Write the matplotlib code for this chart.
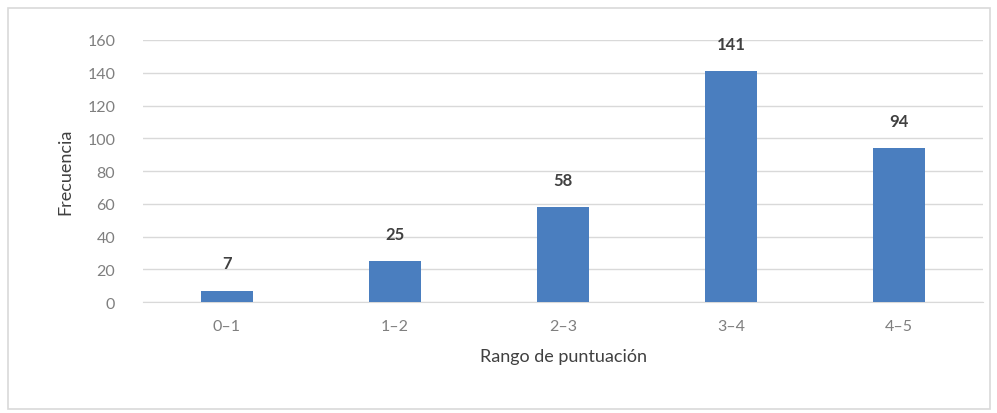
import matplotlib
matplotlib.use("Agg")
from matplotlib import pyplot as plt
from matplotlib.patches import Rectangle

rangos = ['0–1', '1–2', '2–3', '3–4', '4–5']
frecuencia = [7, 25, 58, 141, 94]
yticks = [0, 20, 40, 60, 80, 100, 120, 140, 160]

plt.rcParams['font.family'] = ['Lato', 'DejaVu Sans']

fig = plt.figure(figsize=(9.97, 4.14), dpi=100)
ax = fig.add_axes([0.1434, 0.268, 0.8426, 0.633])

# marco exterior del gráfico
fig.patches.append(Rectangle((8 / 997, 4 / 414), 982 / 997, 401 / 414,
                             transform=fig.transFigure, fill=False,
                             edgecolor='#d9d9d9', linewidth=1.2))

x = range(len(rangos))
bars = ax.bar(x, frecuencia, width=0.31, color='#4a7ebf', zorder=3)

for b, v in zip(bars, frecuencia):
    ax.annotate(str(v), (b.get_x() + b.get_width() / 2, v),
                xytext=(0, 14), textcoords='offset points',
                ha='center', va='bottom', fontsize=12,
                fontweight='bold', color='#404040')

ax.set_xlim(-0.5, len(rangos) - 0.5)
ax.set_ylim(0, 160)
ax.set_yticks(yticks)
ax.set_xticks(list(x))
ax.set_xticklabels(rangos)
ax.grid(axis='y', color='#d9d9d9', linewidth=1, zorder=0)
for s in ['top', 'right', 'left']:
    ax.spines[s].set_visible(False)
ax.spines['bottom'].set_color('#d9d9d9')
ax.tick_params(axis='both', length=0, labelsize=11.5, labelcolor='#7f7f7f')
ax.tick_params(axis='y', pad=20)
ax.tick_params(axis='x', pad=12)

ax.set_xlabel('Rango de puntuación', fontsize=13, color='#404040', labelpad=11)
ax.set_ylabel('Frecuencia', fontsize=13, color='#404040', labelpad=10)

plt.savefig('out.png', dpi=100)
